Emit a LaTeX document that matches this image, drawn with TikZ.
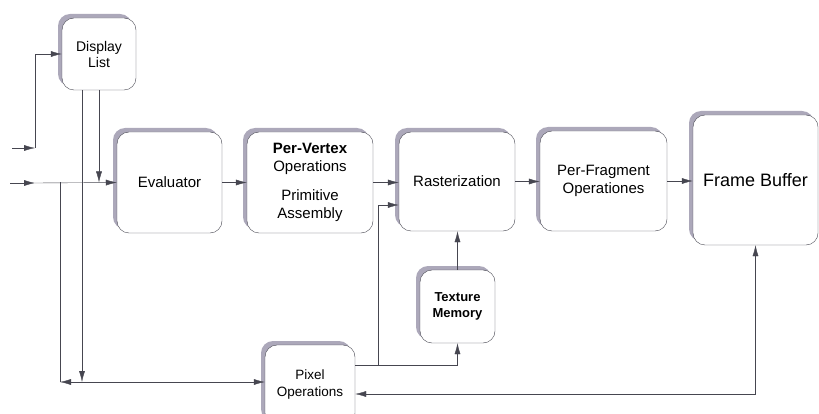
\documentclass[tikz,border=0pt]{standalone}
\usepackage{fontspec}
\setmainfont{Liberation Sans}
\usetikzlibrary{shadows, arrows.meta}
\definecolor{shadowgray}{RGB}{172,168,186}
\definecolor{linegray}{RGB}{70,70,80}

\begin{document}
\begin{tikzpicture}[>={Latex[length=11pt, width=6pt]}, x=1pt, y=-1pt,
    block/.style={draw=linegray, fill=white, rounded corners=12pt, align=center,
        font=\fontsize{15}{18}\selectfont,
        drop shadow={shadow xshift=-4pt, shadow yshift=4pt, opacity=1, fill=shadowgray}},
    wire/.style={draw=linegray, thin}]

\useasboundingbox (0,0) rectangle (819,414);
\clip (0,0) rectangle (819,414);

    \node[block, minimum width=74pt, minimum height=72pt, font=\fontsize{14}{16}\selectfont](disp) at (99,54){Display\\List};
    \node[block, minimum width=105pt, minimum height=101pt](eval) at (169.5,182.5){Evaluator};
    \node[block, minimum width=126pt, minimum height=101pt](vert) at (310,182.5){\textbf{Per-Vertex}\\Operations\\[11pt]Primitive\\Assembly};
    \node[block, minimum width=116pt, minimum height=99pt](rast) at (457,181.5){Rasterization};
    \node[block, minimum width=127pt, minimum height=100pt](frag) at (603.5,181){Per-Fragment\\Operationes};
    \node[block, minimum width=125pt, minimum height=130pt, font=\fontsize{18}{21}\selectfont](fb) at (755.5,180){Frame Buffer};
    \node[block, minimum width=75pt, minimum height=73pt, font=\fontsize{13}{16}\selectfont\bfseries](tex) at (457.5,306.5){Texture\\Memory};
    \node[block, minimum width=90pt, minimum height=80pt, font=\fontsize{13.5}{17}\selectfont](pix) at (310,385){Pixel\\Operations};

\coordinate (in1) at (12,148);
\coordinate (j1) at (35,148);
\coordinate (in2) at (10,183);
\coordinate (j2) at (35,183);
\coordinate (b1) at (60,382);
\coordinate (b2) at (82,382);
\coordinate (k1) at (378,365);

\draw[wire, ->](in1)--(j1);
\draw[wire, ->](j1)|-(disp.west);
\draw[wire, ->](in2)--(j2);
\draw[wire, ->](j2)--(eval.west);
\draw[wire, ->](disp.south)--(disp.south |- eval.west);
\draw[wire, ->]([xshift=-17pt]disp.south)--(b2);
\draw[wire](b1)--(b1 |- eval.west);
\draw[wire, <->](b1)--(pix.west |- b1);

\draw[wire, ->](eval.east)--(vert.west);
\draw[wire, ->](vert.east)--(vert.east -| rast.west);
\draw[wire, ->](rast.east)--(rast.east -| frag.west);
\draw[wire, ->](frag.east)--(frag.east -| fb.west);

\draw[wire](pix.east |- k1)--(k1);
\draw[wire, ->](k1)|-(rast.west |- 0,205);
\draw[wire, ->](k1)-|(tex.south);
\draw[wire, ->](tex.north)--(tex.north |- rast.south);
\draw[wire, <->](pix.east |- 0,394)-|(fb.south);
\end{tikzpicture}
\end{document}
